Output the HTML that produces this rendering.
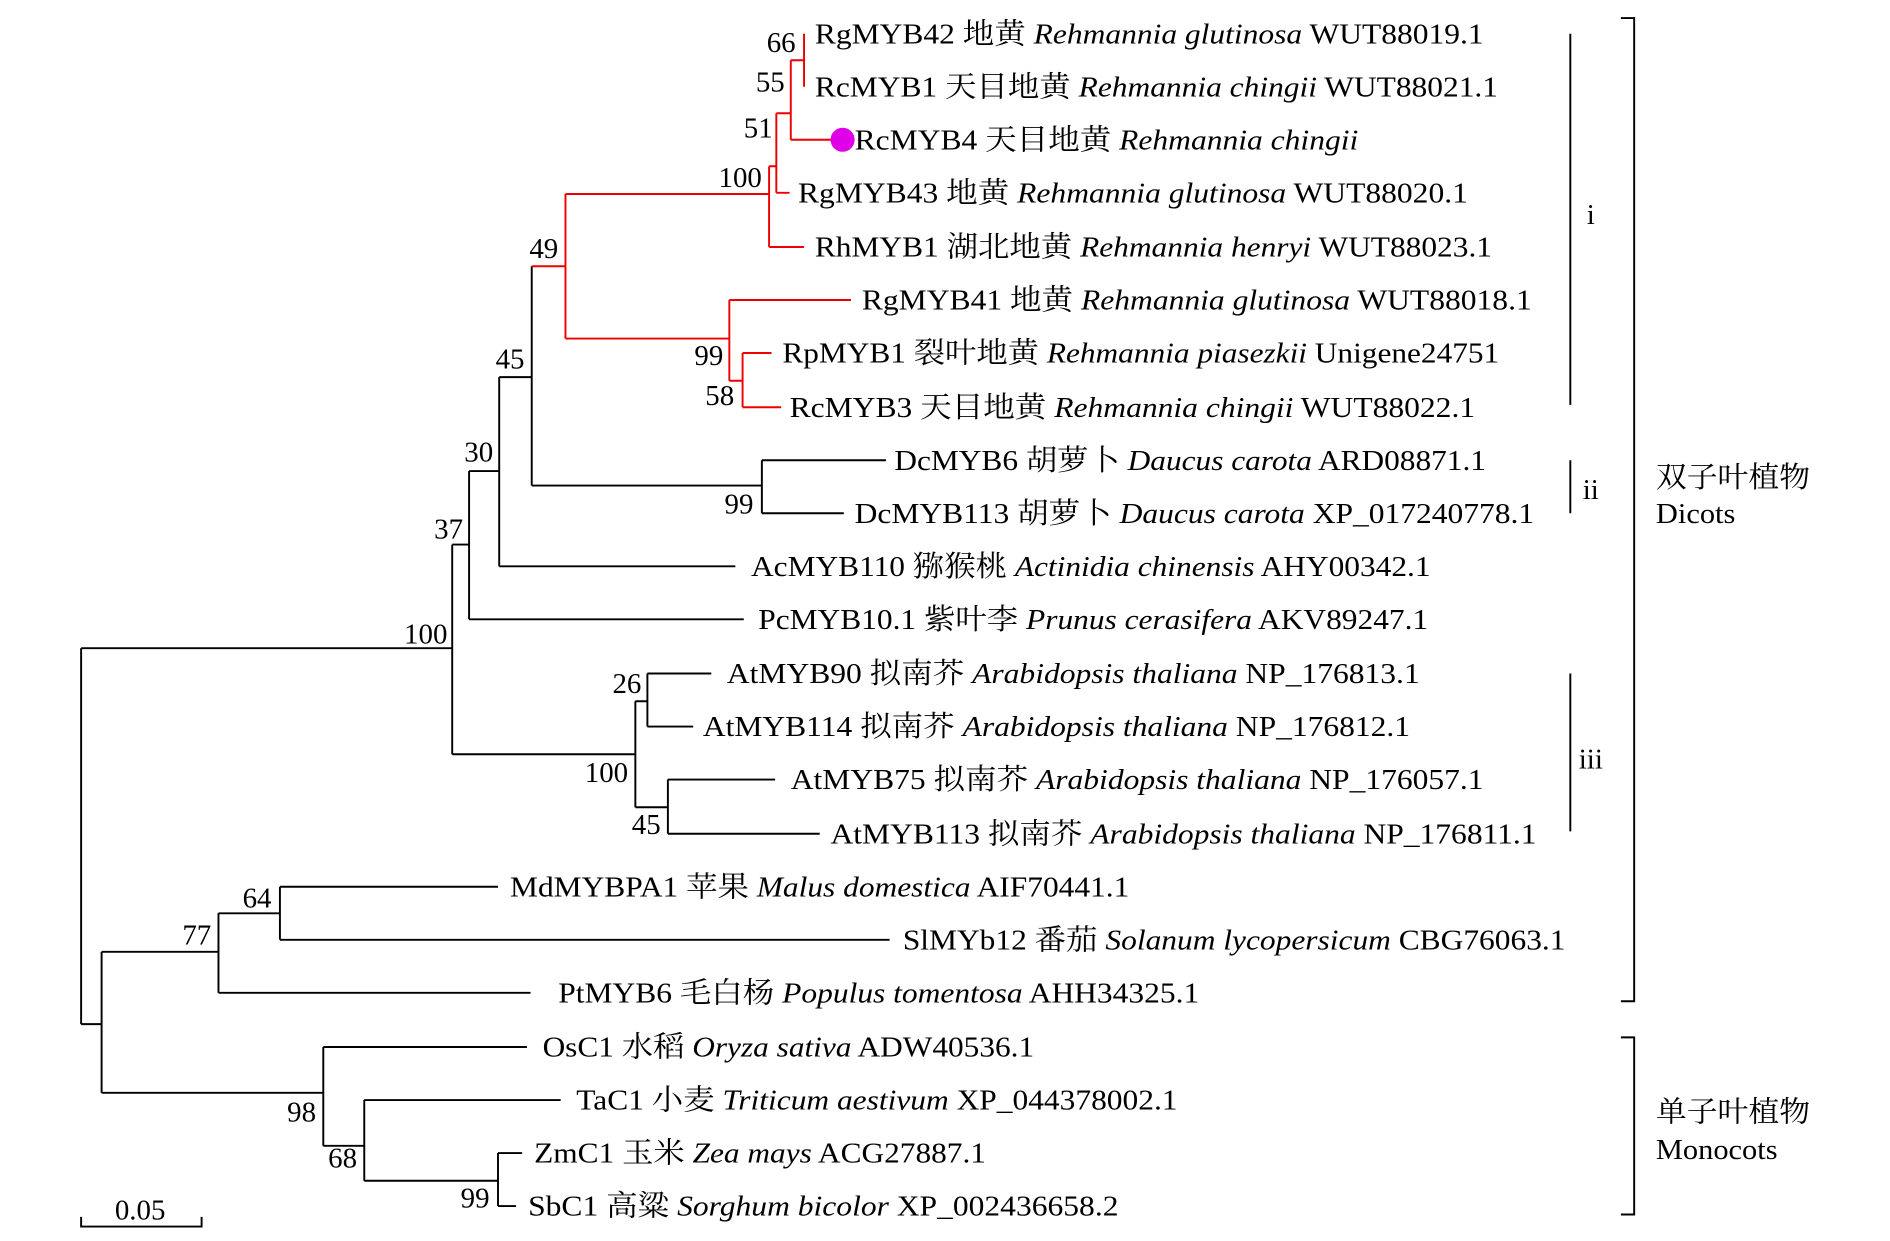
<!DOCTYPE html>
<html><head><meta charset="utf-8"><style>html,body{margin:0;padding:0;background:#fff}svg{display:block}</style></head>
<body>
<svg width="1890" height="1241" viewBox="0 0 1568 1030" xmlns="http://www.w3.org/2000/svg" font-family="'Liberation Serif','Noto Serif CJK SC',serif" font-size="24">
<g stroke="#000" stroke-width="1.6" fill="none">
<path d="M67 538V850M67 538H375M67 850H84M84 790V907M84 790H181M84 907H268"/>
<path d="M375 452V626M375 452H389M375 626H527"/>
<path d="M389 391V514M389 514H617M389 391H414"/>
<path d="M414 313V470M414 470H610M414 313H441"/>
<path d="M441 221V403M441 403H632M632 382V426M632 382H735M632 426H700"/>
<path d="M527 582V670M527 582H537M527 670H554M537 559V603M537 559H590M537 603H575M554 647V692M554 647H643M554 692H680"/>
<path d="M181 758V824M181 824H440M181 758H232M232 736V780M232 736H413M232 780H738"/>
<path d="M268 869V951M268 869H437M268 951H302M302 913V980M302 913H465M302 980H413M413 957V1001M413 957H433M413 1001H428"/>
<path d="M67 1010V1018H167V1010"/>
<path d="M1303 28V336M1303 382V426M1303 559V690"/>
<path d="M1345 15H1356V831H1345M1345 861H1356V1008H1345"/>
</g>
<g stroke="#e00" stroke-width="1.6" fill="none">
<path d="M441 221H469M469 161V281M469 161H638M469 281H605"/>
<path d="M605 249V316M605 249H706M605 316H616M616 293V338M616 293H640M616 338H648"/>
<path d="M638 138V205M638 205H667M638 138H644M644 94V160M644 160H655M644 94H656M656 50V116M656 116H690M656 50H667M667 28V72"/>
</g>
<circle cx="699" cy="116" r="10" fill="#e000e8"/>
<g fill="#000">
<text x="676" y="36" textLength="555" lengthAdjust="spacingAndGlyphs">RgMYB42 地黄 <tspan font-style="italic">Rehmannia glutinosa</tspan> WUT88019.1</text>
<text x="676" y="80" textLength="567" lengthAdjust="spacingAndGlyphs">RcMYB1 天目地黄 <tspan font-style="italic">Rehmannia chingii</tspan> WUT88021.1</text>
<text x="709" y="124" textLength="418" lengthAdjust="spacingAndGlyphs">RcMYB4 天目地黄 <tspan font-style="italic">Rehmannia chingii</tspan></text>
<text x="662" y="168" textLength="556" lengthAdjust="spacingAndGlyphs">RgMYB43 地黄 <tspan font-style="italic">Rehmannia glutinosa</tspan> WUT88020.1</text>
<text x="676" y="213" textLength="562" lengthAdjust="spacingAndGlyphs">RhMYB1 湖北地黄 <tspan font-style="italic">Rehmannia henryi</tspan> WUT88023.1</text>
<text x="715" y="257" textLength="556" lengthAdjust="spacingAndGlyphs">RgMYB41 地黄 <tspan font-style="italic">Rehmannia glutinosa</tspan> WUT88018.1</text>
<text x="649" y="301" textLength="595" lengthAdjust="spacingAndGlyphs">RpMYB1 裂叶地黄 <tspan font-style="italic">Rehmannia piasezkii</tspan> Unigene24751</text>
<text x="655" y="346" textLength="569" lengthAdjust="spacingAndGlyphs">RcMYB3 天目地黄 <tspan font-style="italic">Rehmannia chingii</tspan> WUT88022.1</text>
<text x="742" y="390" textLength="491" lengthAdjust="spacingAndGlyphs">DcMYB6 胡萝卜 <tspan font-style="italic">Daucus carota</tspan> ARD08871.1</text>
<text x="709" y="434" textLength="564" lengthAdjust="spacingAndGlyphs">DcMYB113 胡萝卜 <tspan font-style="italic">Daucus carota</tspan> XP_017240778.1</text>
<text x="623" y="478" textLength="564" lengthAdjust="spacingAndGlyphs">AcMYB110 猕猴桃 <tspan font-style="italic">Actinidia chinensis</tspan> AHY00342.1</text>
<text x="629" y="522" textLength="556" lengthAdjust="spacingAndGlyphs">PcMYB10.1 紫叶李 <tspan font-style="italic">Prunus cerasifera</tspan> AKV89247.1</text>
<text x="603" y="567" textLength="575" lengthAdjust="spacingAndGlyphs">AtMYB90 拟南芥 <tspan font-style="italic">Arabidopsis thaliana</tspan> NP_176813.1</text>
<text x="583" y="611" textLength="587" lengthAdjust="spacingAndGlyphs">AtMYB114 拟南芥 <tspan font-style="italic">Arabidopsis thaliana</tspan> NP_176812.1</text>
<text x="656" y="655" textLength="575" lengthAdjust="spacingAndGlyphs">AtMYB75 拟南芥 <tspan font-style="italic">Arabidopsis thaliana</tspan> NP_176057.1</text>
<text x="689" y="700" textLength="586" lengthAdjust="spacingAndGlyphs">AtMYB113 拟南芥 <tspan font-style="italic">Arabidopsis thaliana</tspan> NP_176811.1</text>
<text x="423" y="744" textLength="514" lengthAdjust="spacingAndGlyphs">MdMYBPA1 苹果 <tspan font-style="italic">Malus domestica</tspan> AIF70441.1</text>
<text x="749" y="788" textLength="550" lengthAdjust="spacingAndGlyphs">SlMYb12 番茄 <tspan font-style="italic">Solanum lycopersicum</tspan> CBG76063.1</text>
<text x="463" y="832" textLength="532" lengthAdjust="spacingAndGlyphs">PtMYB6 毛白杨 <tspan font-style="italic">Populus tomentosa</tspan> AHH34325.1</text>
<text x="450" y="877" textLength="408" lengthAdjust="spacingAndGlyphs">OsC1 水稻 <tspan font-style="italic">Oryza sativa</tspan> ADW40536.1</text>
<text x="478" y="921" textLength="499" lengthAdjust="spacingAndGlyphs">TaC1 小麦 <tspan font-style="italic">Triticum aestivum</tspan> XP_044378002.1</text>
<text x="443" y="965" textLength="375" lengthAdjust="spacingAndGlyphs">ZmC1 玉米 <tspan font-style="italic">Zea mays</tspan> ACG27887.1</text>
<text x="438" y="1009" textLength="490" lengthAdjust="spacingAndGlyphs">SbC1 高粱 <tspan font-style="italic">Sorghum bicolor</tspan> XP_002436658.2</text>
</g>
<g text-anchor="end">
<text x="660" y="43">66</text><text x="651" y="76">55</text><text x="641" y="114">51</text><text x="632" y="155">100</text>
<text x="463" y="214">49</text><text x="600" y="303">99</text><text x="609" y="336">58</text><text x="435" y="306">45</text>
<text x="625" y="426">99</text><text x="409" y="383">30</text><text x="384" y="447">37</text><text x="371" y="534">100</text>
<text x="532" y="575">26</text><text x="521" y="649">100</text><text x="548" y="692">45</text>
<text x="225" y="753">64</text><text x="175" y="784">77</text><text x="262" y="931">98</text><text x="296" y="969">68</text><text x="406" y="1002">99</text>
</g>
<text x="116" y="1012" text-anchor="middle">0.05</text>
<text x="1320" y="186" text-anchor="middle">i</text>
<text x="1320" y="414" text-anchor="middle">ii</text>
<text x="1320" y="638" text-anchor="middle">iii</text>
<text x="1374" y="404" textLength="128" lengthAdjust="spacingAndGlyphs">双子叶植物</text>
<text x="1374" y="434" textLength="66" lengthAdjust="spacingAndGlyphs">Dicots</text>
<text x="1374" y="931" textLength="128" lengthAdjust="spacingAndGlyphs">单子叶植物</text>
<text x="1374" y="962" textLength="101" lengthAdjust="spacingAndGlyphs">Monocots</text>
</svg>
</body></html>
